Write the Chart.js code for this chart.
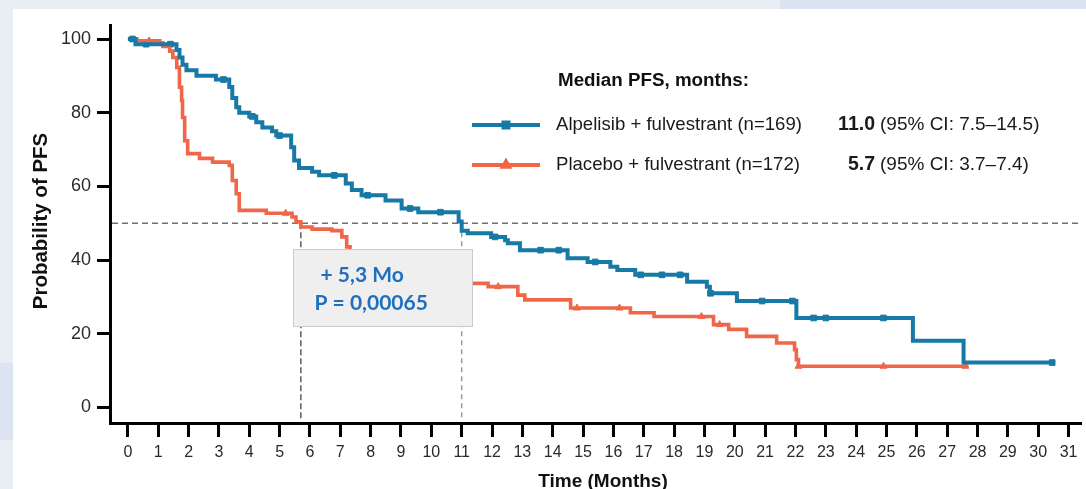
<!DOCTYPE html>
<html>
<head>
<meta charset="utf-8">
<title>PFS - Alpelisib vs Placebo</title>
<script src="https://cdn.jsdelivr.net/npm/chart.js@4.4.1/dist/chart.umd.min.js"></script>
<style>
  html, body { margin: 0; padding: 0; }
  body { width: 1086px; height: 489px; overflow: hidden; position: relative; background: #e9eef5; }
  .strip-top { position: absolute; left: 780px; top: 0; width: 306px; height: 9px; background: #dae4f0; }
  .strip-left { position: absolute; left: 0; top: 363px; width: 13px; height: 77px; background: #dbe4f0; }
  .panel { position: absolute; left: 13px; top: 9px; right: 0; bottom: 0; background: #fff; }
  canvas { position: absolute; left: 0; top: 0; }
</style>
</head>
<body>
<div class="strip-top"></div>
<div class="strip-left"></div>
<div class="panel"></div>
<canvas id="km" width="1086" height="489"></canvas>
<script>
// axes
const monthTicks = [0,1,2,3,4,5,6,7,8,9,10,11,12,13,14,15,16,17,18,19,20,21,22,23,24,25,26,27,28,29,30,31];
const pfsTicks = [0, 20, 40, 60, 80, 100];

// Alpelisib + fulvestrant (time of drop, level after drop)
const alpTime = [0, 0.25, 1.6, 1.7, 1.8, 1.93, 2.26, 2.9, 3.34, 3.44, 3.57, 3.67, 4.0, 4.23, 4.43, 4.75, 4.89, 5.38, 5.48, 5.64, 6.07, 6.3, 7.18, 7.38, 7.7, 8.49, 9.02, 9.57, 10.9, 11.0, 11.2, 11.97, 12.43, 12.52, 12.92, 14.49, 15.15, 15.9, 16.13, 16.72, 18.43, 19.08, 19.18, 20.07, 22.03, 25.87, 27.54, 30.46];
const alpPfs = [100, 98.6, 97, 95, 93, 91.5, 90, 89, 87, 84, 81.5, 80, 79, 77.4, 76, 75, 73.8, 70.6, 67, 65, 64, 63, 60.8, 59, 57.6, 56.2, 54, 53, 50.5, 48, 47.3, 46.3, 45.4, 44.6, 42.7, 40.5, 39.5, 38.2, 37.3, 36, 34.1, 32.8, 31, 28.9, 24.3, 18.1, 12.2, 12.2];
const alpCensorTime = [0.15, 0.6, 1.4, 3.15, 4.1, 5.0, 6.8, 7.9, 9.3, 10.3, 12.1, 13.6, 14.2, 15.4, 16.9, 17.6, 18.2, 19.2, 20.9, 21.9, 22.6, 23.0, 24.9, 30.46];
const alpCensorPfs = [100, 98.6, 98.6, 89, 79, 73.8, 63, 57.6, 54, 53, 46.3, 42.7, 42.7, 39.5, 36, 36, 36, 31, 28.9, 28.9, 24.3, 24.3, 24.3, 12.2];

// Placebo + fulvestrant
const plaTime = [0, 0.3, 1.05, 1.15, 1.38, 1.48, 1.61, 1.7, 1.77, 1.8, 1.87, 1.97, 2.36, 2.79, 3.34, 3.44, 3.57, 3.67, 4.56, 5.41, 5.54, 5.7, 6.07, 6.72, 7.05, 7.21, 7.32, 8.6, 9.4, 10.3, 11.0, 11.87, 12.85, 13.08, 14.59, 16.56, 17.34, 19.3, 19.8, 20.39, 21.38, 21.97, 22.03, 22.1, 27.7];
const plaPfs = [100, 99.5, 99, 98, 96.7, 95, 92.3, 86.9, 83.3, 78.7, 72.4, 68.9, 67.6, 66.6, 65.7, 61.6, 58, 53.5, 52.7, 51.7, 50.4, 49, 48.4, 48, 46.3, 43.6, 41, 38.5, 36, 35, 33.7, 32.8, 30.5, 29.2, 27, 25.7, 24.7, 22.5, 21.2, 19.3, 17.5, 15.7, 13, 11.2, 11.2];
const plaCensorTime = [0.7, 5.2, 12.2, 14.8, 16.2, 18.9, 19.5, 22.1, 24.9, 27.6];
const plaCensorPfs = [99.5, 52.7, 32.8, 27, 27, 24.7, 22.5, 11.2, 11.2, 11.2];

// medians (months) and the 50% line
const medianMonths = [11.0, 5.7];
const medianLevel = 50;
// annotation box, in chart units
const boxMonths = [5.45, 11.35];
const boxPfs = [43, 22];

const BLUE = '#1679a6';
const RED = '#ef6649';
const FONT = "'Liberation Sans', Arial, sans-serif";

const pts = (xs, ys) => xs.map((t, i) => ({ x: t, y: ys[i] }));

const overlay = {
  id: 'overlay',
  beforeDatasetsDraw(chart) {
    const { ctx, chartArea, scales: { x, y } } = chart;
    const y50 = y.getPixelForValue(medianLevel);
    ctx.save();
    ctx.lineWidth = 1.3;
    ctx.setLineDash([6, 4]);
    ctx.strokeStyle = '#6f6f6f';
    ctx.beginPath();
    ctx.moveTo(chartArea.left + 2, y50);
    ctx.lineTo(chartArea.right, y50);
    ctx.stroke();
    const colors = ['#9a9a9a', '#444'];
    medianMonths.forEach((m, i) => {
      const px = x.getPixelForValue(m);
      ctx.strokeStyle = colors[i];
      ctx.lineWidth = i === 0 ? 1.5 : 1.3;
      ctx.setLineDash(i === 0 ? [5, 4] : [6, 3]);
      ctx.beginPath();
      ctx.moveTo(px, y50);
      ctx.lineTo(px, chartArea.bottom - 2);
      ctx.stroke();
    });
    ctx.restore();
  },
  afterDatasetsDraw(chart) {
    const { ctx, scales: { x, y } } = chart;
    const x0 = Math.round(x.getPixelForValue(boxMonths[0])) + 0.5;
    const x1 = Math.round(x.getPixelForValue(boxMonths[1])) + 0.5;
    const y0 = Math.round(y.getPixelForValue(boxPfs[0])) + 0.5;
    const y1 = Math.round(y.getPixelForValue(boxPfs[1])) + 0.5;
    ctx.save();
    ctx.fillStyle = '#efefef';
    ctx.strokeStyle = '#cacaca';
    ctx.lineWidth = 1;
    ctx.fillRect(x0, y0, x1 - x0, y1 - y0);
    ctx.strokeRect(x0, y0, x1 - x0, y1 - y0);
    ctx.fillStyle = '#1f6fbf';
    ctx.font = "bold 21px Lato, 'Open Sans', sans-serif";
    ctx.textBaseline = 'middle';
    ctx.fillText('+ 5,3 Mo', x0 + 27, y0 + 26);
    ctx.fillText('P = 0,00065', x0 + 21, y0 + 54);
    ctx.restore();
  },
  afterDraw(chart) {
    const { ctx } = chart;
    ctx.save();
    ctx.textBaseline = 'middle';
    ctx.fillStyle = '#111';
    // axis titles
    ctx.font = 'bold 20.5px ' + FONT;
    ctx.textAlign = 'center';
    ctx.save();
    ctx.translate(41, 221);
    ctx.rotate(-Math.PI / 2);
    ctx.fillText('Probability of PFS', 0, 0);
    ctx.restore();
    ctx.font = 'bold 19px ' + FONT;
    ctx.fillText('Time (Months)', 603, 482);

    // legend
    ctx.textAlign = 'left';
    ctx.font = 'bold 18.8px ' + FONT;
    ctx.fillText('Median PFS, months:', 558, 81);
    const rows = [
      { color: BLUE, style: 'rect', label: 'Alpelisib + fulvestrant (n=169)', med: '11.0', ci: '(95% CI: 7.5\u201314.5)', y: 125 },
      { color: RED, style: 'triangle', label: 'Placebo + fulvestrant (n=172)', med: '5.7', ci: '(95% CI: 3.7\u20137.4)', y: 165 }
    ];
    rows.forEach(r => {
      ctx.strokeStyle = r.color;
      ctx.lineWidth = 4;
      ctx.beginPath();
      ctx.moveTo(472, r.y);
      ctx.lineTo(540, r.y);
      ctx.stroke();
      ctx.fillStyle = r.color;
      Chart.helpers.drawPoint(ctx, { pointStyle: r.style, radius: 3.5, rotation: 0, borderWidth: 1 }, 506, r.y);
      ctx.fillStyle = '#1a1a1a';
      ctx.font = '18.6px ' + FONT;
      ctx.textAlign = 'left';
      ctx.fillText(r.label, 556, r.y);
      ctx.font = '19px ' + FONT;
      ctx.fillText(r.ci, 880, r.y);
      ctx.font = 'bold 19.5px ' + FONT;
      ctx.textAlign = 'right';
      ctx.fillText(r.med, 875, r.y);
    });
    ctx.restore();
  }
};

const axisCommon = {
  border: { display: true, color: '#000', width: 3 },
  grid: { display: true, drawOnChartArea: false, drawTicks: true, tickWidth: 3, tickColor: '#000', color: '#000' }
};

new Chart(document.getElementById('km'), {
  type: 'line',
  data: {
    datasets: [
      {
        label: 'Alpelisib + fulvestrant (n=169)',
        data: pts(alpTime, alpPfs),
        borderColor: BLUE,
        borderWidth: 4,
        stepped: 'before',
        pointRadius: 0,
        fill: false
      },
      {
        label: 'Placebo + fulvestrant (n=172)',
        data: pts(plaTime, plaPfs),
        borderColor: RED,
        borderWidth: 3.6,
        stepped: 'before',
        pointRadius: 0,
        fill: false
      },
      {
        label: 'alp censored',
        data: pts(alpCensorTime, alpCensorPfs),
        showLine: false,
        pointStyle: 'rect',
        pointRadius: 4,
        backgroundColor: BLUE,
        borderColor: BLUE,
        borderWidth: 1
      },
      {
        label: 'pla censored',
        data: pts(plaCensorTime, plaCensorPfs),
        showLine: false,
        pointStyle: 'triangle',
        pointRadius: 4,
        backgroundColor: RED,
        borderColor: RED,
        borderWidth: 1
      }
    ]
  },
  options: {
    responsive: false,
    animation: false,
    events: [],
    layout: { padding: { left: 0, top: 25, right: 0, bottom: 0 } },
    plugins: { legend: { display: false }, tooltip: { enabled: false } },
    scales: {
      x: {
        type: 'linear',
        min: -0.59,
        max: 31.41,
        ...axisCommon,
        grid: { ...axisCommon.grid, tickLength: 14 },
        afterBuildTicks: s => { s.ticks = monthTicks.map(v => ({ value: v })); },
        afterFit: s => { s.height = 66; },
        ticks: { autoSkip: false, maxRotation: 0, padding: 6, color: '#2a2a2a', font: { family: FONT, size: 16 } }
      },
      y: {
        type: 'linear',
        min: -4.2,
        max: 103.8,
        ...axisCommon,
        grid: { ...axisCommon.grid, tickLength: 13 },
        afterBuildTicks: s => { s.ticks = pfsTicks.map(v => ({ value: v })); },
        afterFit: s => { s.width = 110; },
        ticks: { padding: 6, color: '#2a2a2a', font: { family: FONT, size: 18 } }
      }
    }
  },
  plugins: [overlay]
});
</script>
</body>
</html>
